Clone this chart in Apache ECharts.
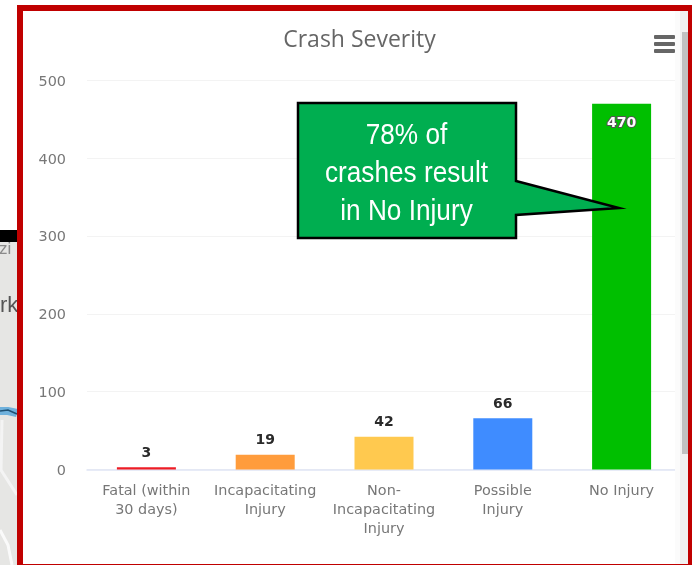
<!DOCTYPE html>
<html>
<head>
<meta charset="utf-8">
<title>Crash Severity</title>
<script src="https://cdn.jsdelivr.net/npm/echarts@6/dist/echarts.min.js"></script>
<style>
    html, body { margin: 0; padding: 0; background: #fff; overflow: hidden; }
    #chart { width: 692px; height: 565px; }
</style>
</head>
<body>
<div id="chart"></div>
<script>
const categories = ['Fatal (within\n30 days)', 'Incapacitating\nInjury', 'Non-\nIncapacitating\nInjury', 'Possible\nInjury', 'No Injury'];
const crashCounts = [3, 19, 42, 66, 470];
const barColors = ['#ee1c25', '#ff9c3c', '#ffc94f', '#3f8cff', '#00bf00'];
const calloutLines = ['78% of', 'crashes result', 'in No Injury'];

const chart = echarts.init(document.getElementById('chart'));

// the value that sits inside its bar gets the outlined white label
const seriesData = crashCounts.map((value, idx) => {
    const inside = value > 400;
    return {
        value: value,
        itemStyle: { color: barColors[idx] },
        label: inside ? {
            position: 'insideTop',
            distance: 13,
            color: '#fff',
            textBorderColor: '#555',
            textBorderWidth: 2
        } : {
            position: 'top',
            distance: 7,
            color: '#2a2a2a'
        }
    };
});

// bits of the page behind the screenshot, left of the frame
const backdrop = [
    { type: 'rect', z: -2, shape: { x: 0, y: 242, width: 18, height: 323 }, style: { fill: '#e6e6e4' } },
    { type: 'rect', z: -1, shape: { x: 0, y: 230, width: 18, height: 12 }, style: { fill: '#000' } },
    { type: 'text', z: -1, x: -1, y: 241, style: { text: 'zi', fill: '#8a8a8a', font: '17px "Liberation Sans"' } },
    { type: 'text', z: -1, x: 0, y: 295, style: { text: 'rk', fill: '#555', font: '22px "Liberation Sans"' } },
    { type: 'polyline', z: -1, shape: { points: [[0, 411], [8, 411], [17, 413]] }, style: { fill: 'none', stroke: '#6fb1dc', lineWidth: 8 } },
    { type: 'polyline', z: -1, shape: { points: [[0, 411], [8, 410], [17, 414]] }, style: { fill: 'none', stroke: '#1d4f72', lineWidth: 1.5 } },
    { type: 'polyline', z: -1, shape: { points: [[2, 420], [1, 470], [17, 495]] }, style: { fill: 'none', stroke: '#f4f4f4', lineWidth: 3 } },
    { type: 'polyline', z: -1, shape: { points: [[0, 530], [8, 545], [12, 565]] }, style: { fill: 'none', stroke: '#fafafa', lineWidth: 3 } }
];

// scrollbar, frame, menu icon and the callout sit on top of the plot
const overlay = [
    { type: 'rect', z: 20, shape: { x: 675, y: 11, width: 5, height: 553 }, style: { fill: '#fbfbfb' } },
    { type: 'rect', z: 20, shape: { x: 680, y: 11, width: 8, height: 553 }, style: { fill: '#f1f1f1' } },
    { type: 'rect', z: 21, shape: { x: 682, y: 32, width: 6, height: 422 }, style: { fill: '#c1c1c1' } },
    { type: 'rect', z: 22, shape: { x: 654, y: 35, width: 21, height: 4, r: 1 }, style: { fill: '#666' } },
    { type: 'rect', z: 22, shape: { x: 654, y: 42, width: 21, height: 4, r: 1 }, style: { fill: '#666' } },
    { type: 'rect', z: 22, shape: { x: 654, y: 49, width: 21, height: 4, r: 1 }, style: { fill: '#666' } },
    { type: 'rect', z: 30, shape: { x: 20, y: 8, width: 671, height: 559 }, style: { fill: 'none', stroke: '#c00000', lineWidth: 6 } },
    {
        type: 'polygon', z: 40,
        shape: { points: [[298, 103], [516, 103], [516, 181], [619, 208], [516, 215], [516, 238], [298, 238]] },
        style: { fill: '#00ae50', stroke: '#000', lineWidth: 2.5, lineJoin: 'miter' }
    },
    {
        type: 'text', z: 41, x: 406.5, y: 173.5, scaleX: 0.873,
        style: {
            text: calloutLines.join('\n'),
            fill: '#fff',
            font: '30px "Liberation Sans"',
            lineHeight: 38,
            align: 'center',
            verticalAlign: 'middle'
        }
    }
];

const options = {
    animation: false,
    title: {
        text: 'Crash Severity',
        left: 354.5,
        top: 24,
        textAlign: 'center',
        textStyle: { fontFamily: 'Open Sans', fontSize: 23, fontWeight: 'normal', color: '#666' }
    },
    grid: { left: 87, width: 594, top: 80.5, height: 389 },
    xAxis: {
        type: 'category',
        data: categories,
        axisTick: { show: false },
        axisLine: { lineStyle: { color: '#dfe5f5', width: 1.5 } },
        axisLabel: {
            interval: 0,
            margin: 12,
            lineHeight: 19,
            fontFamily: 'DejaVu Sans',
            fontSize: 14.4,
            color: '#777'
        }
    },
    yAxis: {
        type: 'value',
        min: 0,
        max: 500,
        interval: 100,
        axisLine: { show: false },
        axisTick: { show: false },
        axisLabel: { margin: 21, verticalAlign: 'top', lineHeight: 3, fontFamily: 'DejaVu Sans', fontSize: 14.4, color: '#777' },
        splitLine: { lineStyle: { color: '#f3f3f3', width: 1 } }
    },
    series: [{
        type: 'bar',
        barWidth: 59,
        data: seriesData,
        label: {
            show: true,
            fontFamily: 'DejaVu Sans',
            fontSize: 14,
            fontWeight: 'bold'
        }
    }],
    graphic: { elements: backdrop.concat(overlay) }
};
chart.setOption(options);
</script>
</body>
</html>
